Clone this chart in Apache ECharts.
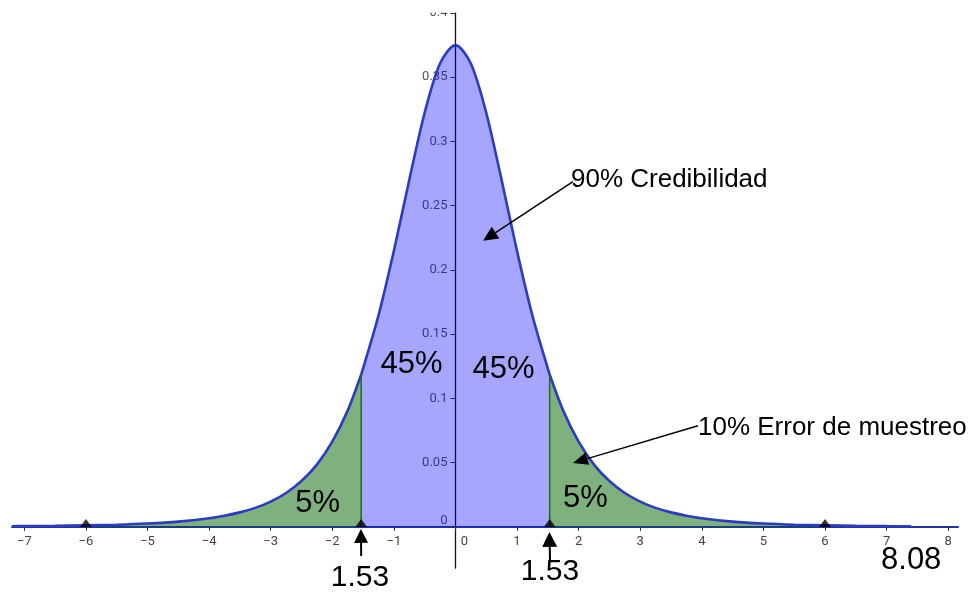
<!DOCTYPE html>
<html>
<head>
<meta charset="utf-8">
<script src="https://cdn.jsdelivr.net/npm/echarts@6/dist/echarts.min.js"></script>
<style>
html,body{margin:0;padding:0;background:#fff;}
#chart{width:975px;height:593px;}
</style>
</head>
<body>
<div id="chart"></div>
<script>
// x positions and density values
const xs   = [-7.2, -7, -6.5, -6, -5.5, -5, -4.5, -4, -3.75, -3.5, -3.25, -3, -2.75, -2.5, -2.25, -2, -1.75, -1.53, -1.25, -1, -0.75, -0.5, -0.25, 0,
              0.25, 0.5, 0.75, 1, 1.25, 1.53, 1.75, 2, 2.25, 2.5, 2.75, 3, 3.25, 3.5, 3.75, 4, 4.5, 5, 5.5, 6, 6.5, 7, 7.4];
const dens = [0.0005, 0.0006, 0.0008, 0.0012, 0.0017, 0.0026, 0.0041, 0.0067, 0.0087, 0.0113, 0.0148, 0.0197, 0.0264, 0.0357, 0.0485, 0.0663, 0.0905, 0.1186, 0.1644, 0.2147, 0.2699, 0.3223, 0.3607, 0.375,
              0.3607, 0.3223, 0.2699, 0.2147, 0.1644, 0.1186, 0.0905, 0.0663, 0.0485, 0.0357, 0.0264, 0.0197, 0.0148, 0.0113, 0.0087, 0.0067, 0.0041, 0.0026, 0.0017, 0.0012, 0.0008, 0.0006, 0.0005];
const cutLow = -1.53, cutHigh = 1.53;
const pointXs = [-6, -1.53, 1.53, 6];
const xTicks = [-7, -6, -5, -4, -3, -2, -1, 0, 1, 2, 3, 4, 5, 6, 7, 8];
const yTicks = [0, 0.05, 0.1, 0.15, 0.2, 0.25, 0.3, 0.35, 0.4];

// annotation texts (data coordinates)
const notes = [
  {text: '45%', x: -0.713, y: 0.1262, size: 31, align: 'center'},
  {text: '45%', x: 0.78, y: 0.1223, size: 31, align: 'center'},
  {text: '5%', x: -2.239, y: 0.0183, size: 31, align: 'center'},
  {text: '5%', x: 2.112, y: 0.0218, size: 31, align: 'center'},
  {text: '1.53', x: -1.55, y: -0.0395, size: 30, align: 'center'},
  {text: '1.53', x: 1.535, y: -0.0350, size: 30, align: 'center'},
  {text: '8.08', x: 7.40, y: -0.0265, size: 31, align: 'center'},
  {text: '90% Credibilidad', x: 1.876, y: 0.2703, size: 26, align: 'left'},
  {text: '10% Error de muestreo', x: 3.938, y: 0.0771, size: 26, align: 'left'}
];
const arrows = [
  {from: [1.908, 0.2687], to: [0.448, 0.2227], len: 15, w: 14, lw: 1.5},
  {from: [3.938, 0.0787], to: [1.908, 0.0498], len: 15, w: 13, lw: 1.5},
  {from: [-1.53, -0.0226], to: [-1.535, -0.0016], len: 14, w: 14, lw: 2},
  {from: [1.536, -0.0257], to: [1.525, -0.0039], len: 15, w: 15, lw: 2}
];

const X_MIN = -7.2, X_MAX = 8.16, Y_MIN = -0.032, Y_MAX = 0.4;
const GRID = {left: 12, right: 17, top: 13, bottom: 25};
const W = 975, H = 593;
const gw = W - GRID.left - GRID.right, gh = H - GRID.top - GRID.bottom;
// distances from grid edges to the zero lines (axes cross at the origin)
const yAxisShift = gw * (0 - X_MIN) / (X_MAX - X_MIN);
const xAxisShift = gh * (0 - Y_MIN) / (Y_MAX - Y_MIN);

const pts = xs.map((x, i) => [x, dens[i]]);
const leftTail = pts.filter(p => p[0] <= cutLow);
const middle = pts.filter(p => p[0] >= cutLow && p[0] <= cutHigh);
const rightTail = pts.filter(p => p[0] >= cutHigh);
const yLow = dens[xs.indexOf(cutLow)], yHigh = dens[xs.indexOf(cutHigh)];

const curveColor = '#2b3cc0';
const chart = echarts.init(document.getElementById('chart'));

function areaSeries(data, fill) {
  return {
    type: 'line', data: data, smooth: 0.3, showSymbol: false, silent: true,
    lineStyle: {color: curveColor, width: 2.6},
    areaStyle: {color: fill, opacity: 1, origin: 0},
    z: 3
  };
}

chart.setOption({
  animation: false,
  grid: Object.assign({containLabel: false, outerBoundsMode: 'none'}, GRID),
  xAxis: {
    type: 'value', min: X_MIN, max: X_MAX, position: 'bottom', offset: -xAxisShift,
    axisLine: {onZero: false, lineStyle: {color: '#2233aa', width: 2}},
    axisTick: {show: true, length: 4, inside: false, customValues: xTicks, lineStyle: {color: '#333', width: 1}},
    axisLabel: {
      customValues: xTicks, margin: 8, fontFamily: 'Roboto', fontSize: 13, color: '#444',
      formatter: v => v === 0 ? '{z|0}' : (v < 0 ? '\u2212' + Math.abs(v) : String(v)),
      rich: {z: {padding: [0, 0, 0, 18], fontFamily: 'Roboto', fontSize: 13, color: '#444'}}
    },
    splitLine: {show: false}
  },
  yAxis: {
    type: 'value', min: Y_MIN, max: Y_MAX, position: 'left', offset: -yAxisShift,
    axisLine: {onZero: false, lineStyle: {color: '#111', width: 1.3}},
    axisTick: {show: true, length: 5, customValues: yTicks, lineStyle: {color: '#333'}},
    axisLabel: {
      customValues: yTicks, margin: 8, fontFamily: 'Roboto', fontSize: 13, color: '#555',
      formatter: v => v === 0 ? '{z|0}' : String(+v.toFixed(2)),
      rich: {z: {padding: [0, 0, 13, 0], fontFamily: 'Roboto', fontSize: 13, color: '#555'}}
    },
    splitLine: {show: false}
  },
  series: [
    areaSeries(leftTail, 'rgba(0,100,0,0.5)'),
    areaSeries(middle, 'rgba(0,0,255,0.35)'),
    areaSeries(rightTail, 'rgba(0,100,0,0.5)'),
    {type: 'line', data: [[cutLow, 0], [cutLow, yLow]], showSymbol: false, silent: true,
     lineStyle: {color: '#1f6a1f', width: 1.5}, z: 4},
    {type: 'line', data: [[cutHigh, 0], [cutHigh, yHigh]], showSymbol: false, silent: true,
     lineStyle: {color: '#1f6a1f', width: 1.5}, z: 4},
    {type: 'scatter', data: pointXs.map(x => [x, 0]), symbol: 'triangle', symbolSize: [12, 8],
     symbolOffset: [0, -4], itemStyle: {color: '#000'}, silent: true, z: 6}
  ]
});

// annotations placed from data coordinates
const px = p => chart.convertToPixel({gridIndex: 0}, p);
const graphics = [];
notes.forEach(n => {
  const p = px([n.x, n.y]);
  graphics.push({type: 'text', x: p[0], y: p[1], z: 20,
    style: {text: n.text, fill: '#000', font: n.size + 'px "Liberation Sans", Arial, sans-serif',
            textAlign: n.align, textVerticalAlign: 'middle'}});
});
arrows.forEach(a => {
  const f = px(a.from), t = px(a.to);
  const dx = t[0] - f[0], dy = t[1] - f[1];
  const L = Math.hypot(dx, dy), ux = dx / L, uy = dy / L;
  const bx = t[0] - ux * a.len, by = t[1] - uy * a.len;
  const nx = -uy * a.w / 2, ny = ux * a.w / 2;
  graphics.push({type: 'line', z: 20, shape: {x1: f[0], y1: f[1], x2: bx, y2: by},
    style: {stroke: '#000', lineWidth: a.lw}});
  graphics.push({type: 'polygon', z: 20, shape: {points: [[t[0], t[1]], [bx + nx, by + ny], [bx - nx, by - ny]]},
    style: {fill: '#000'}});
});
// top margin of the view (the 0.4 label is cut at the view edge)
graphics.push({type: 'rect', z: 30, shape: {x: 0, y: 0, width: W, height: 12.5}, style: {fill: '#fff'}});
chart.setOption({graphic: graphics});
</script>
</body>
</html>
